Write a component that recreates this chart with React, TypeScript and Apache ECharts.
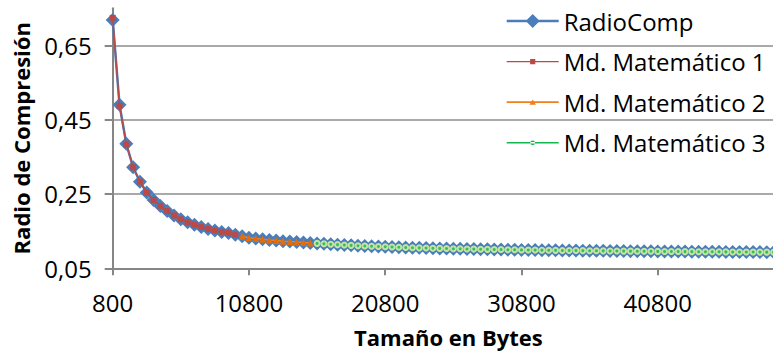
import React, { useEffect, useRef } from "react";
import * as echarts from "echarts";

const sizes = [
  800, 1300, 1800, 2300, 2800, 3300, 3800, 4300, 4800, 5300,
  5800, 6300, 6800, 7300, 7800, 8300, 8800, 9300, 9800, 10300,
  10800, 11300, 11800, 12300, 12800, 13300, 13800, 14300, 14800, 15300,
  15800, 16300, 16800, 17300, 17800, 18300, 18800, 19300, 19800, 20300,
  20800, 21300, 21800, 22300, 22800, 23300, 23800, 24300, 24800, 25300,
  25800, 26300, 26800, 27300, 27800, 28300, 28800, 29300, 29800, 30300,
  30800, 31300, 31800, 32300, 32800, 33300, 33800, 34300, 34800, 35300,
  35800, 36300, 36800, 37300, 37800, 38300, 38800, 39300, 39800, 40300,
  40800, 41300, 41800, 42300, 42800, 43300, 43800, 44300, 44800, 45300,
  45800, 46300, 46800, 47300, 47800, 48300, 48800, 49300,
];

const radioComp = [
  0.718, 0.490, 0.385, 0.322, 0.283, 0.254, 0.234, 0.218, 0.204, 0.192,
  0.182, 0.174, 0.167, 0.161, 0.156, 0.152, 0.148, 0.145, 0.140, 0.136,
  0.1325, 0.130, 0.128, 0.126, 0.1245, 0.123, 0.1218, 0.1205, 0.1192, 0.1180,
  0.1170, 0.1159, 0.1148, 0.1137, 0.1127, 0.1117, 0.1108, 0.1100, 0.1093, 0.1086,
  0.1079, 0.1072, 0.1066, 0.1060, 0.1055, 0.1050, 0.1045, 0.1040, 0.1036, 0.1032,
  0.1028, 0.1024, 0.1020, 0.1017, 0.1013, 0.1010, 0.1007, 0.1004, 0.1001, 0.0998,
  0.0995, 0.0993, 0.0990, 0.0988, 0.0985, 0.0983, 0.0981, 0.0979, 0.0977, 0.0975,
  0.0973, 0.0971, 0.0969, 0.0967, 0.0965, 0.0963, 0.0962, 0.0960, 0.0958, 0.0957,
  0.0955, 0.0954, 0.0952, 0.0951, 0.0949, 0.0948, 0.0947, 0.0945, 0.0944, 0.0943,
  0.0942, 0.0940, 0.0939, 0.0938, 0.0937, 0.0936, 0.0935, 0.0934,
];

// Md. Matemático 1: sizes[0..18]
const md1 = [
  0.724, 0.487, 0.383, 0.322, 0.283, 0.254, 0.234, 0.218, 0.204, 0.192,
  0.182, 0.174, 0.167, 0.161, 0.156, 0.152, 0.148, 0.145, 0.140,
];
const md1Start = 0;

// Md. Matemático 2: sizes[19..29]
const md2 = [
  0.136, 0.1325, 0.130, 0.128, 0.126, 0.1245, 0.123, 0.1218, 0.1205, 0.1192, 0.1180,
];
const md2Start = 19;

// Md. Matemático 3: sizes[30..97]
const md3 = [
  0.1170, 0.1159, 0.1148, 0.1137, 0.1127, 0.1117, 0.1108, 0.1100, 0.1093, 0.1086,
  0.1079, 0.1072, 0.1066, 0.1060, 0.1055, 0.1050, 0.1045, 0.1040, 0.1036, 0.1032,
  0.1028, 0.1024, 0.1020, 0.1017, 0.1013, 0.1010, 0.1007, 0.1004, 0.1001, 0.0998,
  0.0995, 0.0993, 0.0990, 0.0988, 0.0985, 0.0983, 0.0981, 0.0979, 0.0977, 0.0975,
  0.0973, 0.0971, 0.0969, 0.0967, 0.0965, 0.0963, 0.0962, 0.0960, 0.0958, 0.0957,
  0.0955, 0.0954, 0.0952, 0.0951, 0.0949, 0.0948, 0.0947, 0.0945, 0.0944, 0.0943,
  0.0942, 0.0940, 0.0939, 0.0938, 0.0937, 0.0936, 0.0935, 0.0934,
];
const md3Start = 30;

const xTicks = [800, 10800, 20800, 30800, 40800];
const yTicks = [0.05, 0.25, 0.45, 0.65];

const seriesNames = ["RadioComp", "Md. Matemático 1", "Md. Matemático 2", "Md. Matemático 3"];

const pair = (vals: number[], start: number) => vals.map((v, i) => [sizes[start + i], v]);

const FONT = "'Open Sans', 'Liberation Sans', sans-serif";
const SPECKS = "M0 0h0.01v0.01h-0.01z M51.99 13.99h0.01v0.01h-0.01z ";

export default function App() {
  const ref = useRef<HTMLDivElement>(null);
  useEffect(() => {
    if (!ref.current) return;
    const chart = echarts.init(ref.current, null, { renderer: "svg" });
    chart.setOption({
      animation: false,
      backgroundColor: "#ffffff",
      textStyle: { fontFamily: FONT },
      grid: { left: 112.7, right: 0, top: 8.2, bottom: 85.7 },
      legend: {
        orient: "vertical",
        left: 506.7,
        top: 9,
        padding: 0,
        itemWidth: 52,
        itemHeight: 14,
        itemGap: 16.6,
        symbolKeepAspect: true,
        itemStyle: { borderWidth: 0 },
        textStyle: { fontFamily: FONT, fontSize: 24, color: "#000", lineHeight: 24 },
        data: [
          {
            name: seriesNames[0],
            icon: "path://M0 5.75H52V8.25H0z M26 0L33 7L26 14L19 7z",
            itemStyle: { color: "#4A7EBB", borderWidth: 0 },
          },
          {
            name: seriesNames[1],
            icon: "path://" + SPECKS + "M0 6.4H52V7.6H0z M23.4 4.4H28.6V9.6H23.4z",
            itemStyle: { color: "#B94A47", borderWidth: 0 },
          },
          {
            name: seriesNames[2],
            icon: "path://" + SPECKS + "M0 6.1H52V7.9H0z M26 4.2L29.3 9.6H22.7z",
            itemStyle: { color: "#F07F1E", borderWidth: 0 },
          },
          {
            name: seriesNames[3],
            icon: "path://" + SPECKS + "M0 6.2H52V7.8H0z M23.6 7a2.4 2.4 0 1 0 4.8 0a2.4 2.4 0 1 0 -4.8 0z",
            itemStyle: { color: "#12B84E", borderWidth: 0 },
          },
        ],
      },
      xAxis: {
        type: "value",
        min: 800,
        max: 50800,
        interval: 10000,
        name: "Tamaño en Bytes",
        nameLocation: "middle",
        nameGap: 58,
        nameTextStyle: {
          fontFamily: FONT,
          fontSize: 22,
          fontWeight: "bold",
          color: "#000",
          padding: [0, 10, 0, 0],
        },
        axisLine: { show: true, lineStyle: { color: "#868686", width: 2 } },
        axisTick: { show: true, length: 7, lineStyle: { color: "#868686", width: 2 }, customValues: xTicks },
        axisLabel: {
          customValues: xTicks,
          margin: 22,
          fontFamily: FONT,
          fontSize: 24,
          color: "#000",
          formatter: (v: number) => String(v),
        },
        splitLine: { show: false },
      },
      yAxis: {
        type: "value",
        min: 0.05,
        max: 0.75,
        interval: 0.2,
        name: "Radio de Compresión",
        nameLocation: "middle",
        nameGap: 81,
        nameRotate: 90,
        nameTextStyle: { fontFamily: FONT, fontSize: 22, fontWeight: "bold", color: "#000" },
        axisLine: { show: true, lineStyle: { color: "#868686", width: 2 } },
        axisTick: { show: true, length: 8, lineStyle: { color: "#868686", width: 2 }, customValues: yTicks },
        axisLabel: {
          customValues: yTicks,
          margin: 21,
          fontFamily: FONT,
          fontSize: 24,
          color: "#000",
          formatter: (v: number) => v.toFixed(2).replace(".", ","),
        },
        splitLine: { show: true, lineStyle: { color: "#8C8C8C", width: 1.5 } },
      },
      series: [
        {
          name: seriesNames[0],
          type: "line",
          data: pair(radioComp, 0),
          symbol: "diamond",
          symbolSize: 14,
          lineStyle: { color: "#4A7EBB", width: 2.5 },
          itemStyle: { color: "#4A7EBB" },
          z: 2,
        },
        {
          name: seriesNames[1],
          type: "line",
          data: pair(md1, md1Start),
          symbol: "rect",
          symbolSize: 6,
          lineStyle: { color: "#B94A47", width: 1.5 },
          itemStyle: { color: "#B94A47" },
          z: 3,
        },
        {
          name: seriesNames[2],
          type: "line",
          data: pair(md2, md2Start),
          symbol: "triangle",
          symbolSize: 7,
          lineStyle: { color: "#F07F1E", width: 1.5 },
          itemStyle: { color: "#E46C0A" },
          z: 4,
        },
        {
          name: seriesNames[3],
          type: "line",
          data: pair(md3, md3Start),
          symbol: "circle",
          symbolSize: 5,
          lineStyle: { color: "#12B84E", width: 1.5 },
          itemStyle: { color: "#2FC25B", borderColor: "#C6E3A4", borderWidth: 2 },
          z: 5,
        },
      ],
    });
    return () => chart.dispose();
  }, []);
  return (
    <div style={{ position: "fixed", left: 0, top: 0, width: 773, height: 354, overflow: "hidden", background: "#fff" }}>
      <div ref={ref} style={{ width: 794, height: 354 }} />
    </div>
  );
}
